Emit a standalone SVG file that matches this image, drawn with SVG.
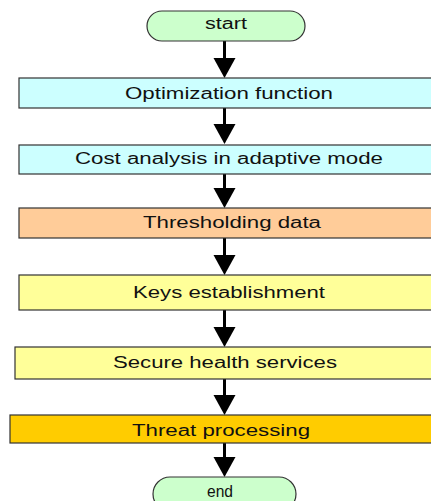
<svg xmlns="http://www.w3.org/2000/svg" width="431" height="501" viewBox="0 0 431 501">
<style>
.box{stroke:#333;stroke-width:1.2}
.term{fill:#ccffcc;stroke:#333;stroke-width:1.2}
text{font-family:"Liberation Sans",Arial,sans-serif;font-size:16px;fill:#111;text-anchor:start}
.st{fill:#000;stroke:#000;stroke-width:3}
</style>
<defs>
<marker id="ah" viewBox="0 0 22 20" refX="11" refY="20" markerWidth="22" markerHeight="20" markerUnits="userSpaceOnUse" orient="auto-start-reverse">
<path d="M0,0 L22,0 L11,20 Z" fill="#000"/>
</marker>
</defs>
<rect width="431" height="501" fill="#fff"/>
<g id="connectors">
<line class="st" x1="224.5" y1="41" x2="224.5" y2="60"/><path d="M213.5,58 L235.5,58 L224.5,78 Z"/>
<line class="st" x1="224.5" y1="108" x2="224.5" y2="127"/><path d="M213.5,124 L235.5,124 L224.5,144 Z"/>
<line class="st" x1="224.5" y1="174" x2="224.5" y2="190"/><path d="M213.5,188 L235.5,188 L224.5,208 Z"/>
<line class="st" x1="224.5" y1="238" x2="224.5" y2="257"/><path d="M213.5,255 L235.5,255 L224.5,275 Z"/>
<line class="st" x1="224.5" y1="310" x2="224.5" y2="329"/><path d="M213.5,327 L235.5,327 L224.5,347 Z"/>
<line class="st" x1="224.5" y1="379" x2="224.5" y2="397"/><path d="M213.5,395 L235.5,395 L224.5,415 Z"/>
<line class="st" x1="224.5" y1="443" x2="224.5" y2="459"/><path d="M213.5,457 L235.5,457 L224.5,477 Z"/>
</g>
<g id="start">
<rect class="term" x="147" y="11" width="158" height="30" rx="15" ry="15"/>
<text x="205" y="29" textLength="42" lengthAdjust="spacingAndGlyphs">start</text>
</g>
<g id="optimization">
<rect class="box" x="19" y="78" width="420" height="30" fill="#ccffff"/>
<text x="125" y="99" textLength="208" lengthAdjust="spacingAndGlyphs">Optimization function</text>
</g>
<g id="cost">
<rect class="box" x="19" y="145" width="420" height="29" fill="#ccffff"/>
<text x="75" y="164" textLength="308" lengthAdjust="spacingAndGlyphs">Cost analysis in adaptive mode</text>
</g>
<g id="thresholding">
<rect class="box" x="19" y="208" width="420" height="30" fill="#ffcc99"/>
<text x="143" y="228" textLength="178" lengthAdjust="spacingAndGlyphs">Thresholding data</text>
</g>
<g id="keys">
<rect class="box" x="19" y="275" width="420" height="35" fill="#ffff99"/>
<text x="133" y="298" textLength="192" lengthAdjust="spacingAndGlyphs">Keys establishment</text>
</g>
<g id="secure">
<rect class="box" x="15" y="347" width="424" height="32" fill="#ffff99"/>
<text x="113" y="368" textLength="224" lengthAdjust="spacingAndGlyphs">Secure health services</text>
</g>
<g id="threat">
<rect class="box" x="10" y="415" width="429" height="28" fill="#ffcc00"/>
<text x="132" y="436" textLength="178" lengthAdjust="spacingAndGlyphs">Threat processing</text>
</g>
<g id="end">
<rect class="term" x="153" y="477" width="143" height="34" rx="17" ry="17"/>
<text x="207" y="497" textLength="26" lengthAdjust="spacingAndGlyphs">end</text>
</g>
</svg>
